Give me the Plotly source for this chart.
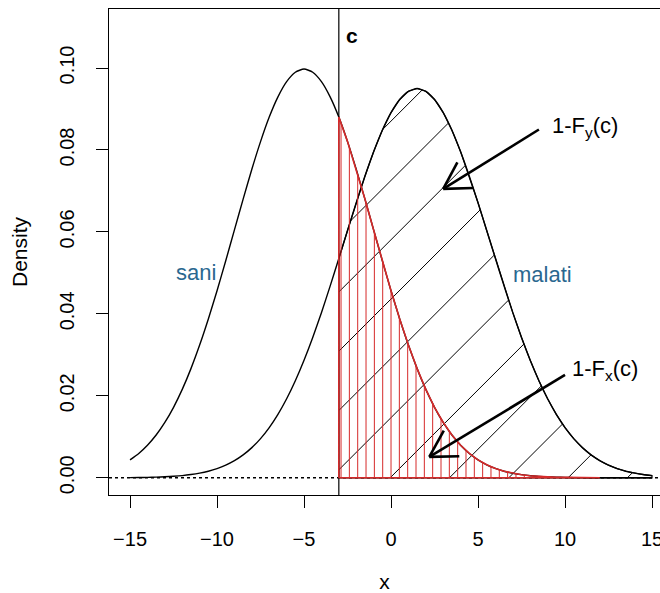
import numpy as np
import plotly.graph_objects as go

# ---- data -------------------------------------------------------------
x_grid = np.arange(-15, 15.001, 0.5)

sani_density = [
    0.00438, 0.00594, 0.00794, 0.01043, 0.01350, 0.01720, 0.02157, 0.02664,
    0.03238, 0.03875, 0.04566, 0.05297, 0.06049, 0.06801, 0.07529, 0.08204,
    0.08802, 0.09296, 0.09667, 0.09896, 0.09974, 0.09896, 0.09667, 0.09296,
    0.08802, 0.08204, 0.07529, 0.06801, 0.06049, 0.05297, 0.04566, 0.03875,
    0.03238, 0.02664, 0.02157, 0.01720, 0.01350, 0.01043, 0.00794, 0.00594,
    0.00438, 0.00318, 0.00228, 0.00160, 0.00111, 0.00076, 0.00051, 0.00034,
    0.00022, 0.00014, 0.00009, 0.00005, 0.00003, 0.00002, 0.00001, 0.00001,
    0.0, 0.0, 0.0, 0.0, 0.0,
]

malati_density = [
    0.00004, 0.00007, 0.00010, 0.00016, 0.00025, 0.00037, 0.00054, 0.00079,
    0.00113, 0.00160, 0.00224, 0.00308, 0.00417, 0.00558, 0.00736, 0.00956,
    0.01225, 0.01548, 0.01929, 0.02369, 0.02868, 0.03424, 0.04030, 0.04677,
    0.05351, 0.06036, 0.06713, 0.07360, 0.07957, 0.08481, 0.08912, 0.09233,
    0.09432, 0.09499, 0.09432, 0.09233, 0.08912, 0.08481, 0.07957, 0.07360,
    0.06713, 0.06036, 0.05351, 0.04677, 0.04030, 0.03424, 0.02868, 0.02369,
    0.01929, 0.01548, 0.01225, 0.00956, 0.00736, 0.00558, 0.00417, 0.00308,
    0.00224, 0.00160, 0.00113, 0.00079, 0.00054,
]

cutoff = -3.0          # threshold c
sani_tail_end = 12.0   # right end of the shaded sani tail
malati_end = 15.0

x_ticks = [-15, -10, -5, 0, 5, 10, 15]
x_tick_labels = ["\u221215", "\u221210", "\u22125", "0", "5", "10", "15"]
y_ticks = [0.00, 0.02, 0.04, 0.06, 0.08, 0.10]
y_tick_labels = ["0.00", "0.02", "0.04", "0.06", "0.08", "0.10"]

arrow_tails = [(8.5, 0.0850), (10.0, 0.0251)]
arrow_tips = [(3.0, 0.0705), (2.2, 0.0051)]

# ---- layout geometry --------------------------------------------------
W, H = 660, 593
M_L, M_R, M_T, M_B = 109, 0, 9, 98
x_range = [-16.21, 15.46]
y_range = [-0.0042, 0.1144]
plot_w = W - M_L - M_R
plot_h = H - M_T - M_B
sx = plot_w / (x_range[1] - x_range[0])   # px per x unit
sy = plot_h / (y_range[1] - y_range[0])   # px per y unit

FONT = "Liberation Sans, Arial, Helvetica, sans-serif"
RED = "#d62a2a"
BLUE = "#2a6890"

fig = go.Figure()

# density curves
for dens in (sani_density, malati_density):
    fig.add_trace(go.Scatter(x=x_grid, y=dens, mode="lines",
                             line=dict(color="black", width=1.4, shape="spline", smoothing=0.6),
                             hoverinfo="skip", showlegend=False))

# 45-degree hatching under the malati curve, right of c
xf = np.linspace(cutoff, malati_end, 6001)
fm = np.interp(xf, x_grid, malati_density)
slope = sx / sy
hatch_step = 59.3 / sx
hx, hy = [], []
for k in range(-9, 7):
    x0 = -0.05 + k * hatch_step
    yl = (xf - x0) * slope
    idx = np.flatnonzero((yl >= 0) & (yl <= fm))
    if idx.size == 0:
        continue
    for run in np.split(idx, np.where(np.diff(idx) > 1)[0] + 1):
        a, b = run[0], run[-1]
        if b - a < 2:
            continue
        hx += [xf[a], xf[b], None]
        hy += [yl[a], yl[b], None]
fig.add_trace(go.Scatter(x=hx, y=hy, mode="lines",
                         line=dict(color="black", width=1),
                         hoverinfo="skip", showlegend=False))

# outline of the malati region
mask_m = (x_grid >= cutoff) & (x_grid <= malati_end)
mx = [cutoff] + list(x_grid[mask_m]) + [malati_end, cutoff]
my = [0] + list(np.array(malati_density)[mask_m]) + [0, 0]
fig.add_trace(go.Scatter(x=mx, y=my, mode="lines",
                         line=dict(color="black", width=1.2),
                         hoverinfo="skip", showlegend=False))

# vertical red hatching under the sani tail
red_step = 8.33 / sx
fs = np.array(sani_density)
rx, ry = [], []
k0 = int(np.ceil(cutoff / red_step))
k1 = int(np.floor(sani_tail_end / red_step))
for k in range(k0, k1 + 1):
    xv = k * red_step
    if xv <= cutoff + 1e-9:
        continue
    top = float(np.interp(xv, x_grid, fs))
    rx += [xv, xv, None]
    ry += [0, top, None]
fig.add_trace(go.Scatter(x=rx, y=ry, mode="lines",
                         line=dict(color=RED, width=1),
                         hoverinfo="skip", showlegend=False))

# outline of the sani tail
mask_s = (x_grid >= cutoff) & (x_grid <= sani_tail_end)
sxs = [cutoff] + list(x_grid[mask_s]) + [sani_tail_end, cutoff]
sys_ = [0] + list(fs[mask_s]) + [0, 0]
fig.add_trace(go.Scatter(x=sxs, y=sys_, mode="lines",
                         line=dict(color=RED, width=1.6),
                         hoverinfo="skip", showlegend=False))

# reference lines: y = 0 (dotted) and x = c
shapes = [
    dict(type="line", xref="paper", yref="y", x0=0, x1=1, y0=0, y1=0,
         line=dict(color="black", width=1.4, dash="dot"), layer="below"),
    dict(type="line", xref="x", yref="paper", x0=cutoff, x1=cutoff, y0=0, y1=1,
         line=dict(color="black", width=1.2), layer="below"),
]

# arrows with open heads
head_len = 30
for (xt, yt), (xh, yh) in zip(arrow_tails, arrow_tips):
    shapes.append(dict(type="line", x0=xt, y0=yt, x1=xh, y1=yh,
                       line=dict(color="black", width=2.6)))
    ang = np.arctan2((yt - yh) * sy, (xt - xh) * sx)
    for d in (np.pi / 6, -np.pi / 6):
        bx = xh + head_len * np.cos(ang + d) / sx
        by = yh + head_len * np.sin(ang + d) / sy
        shapes.append(dict(type="line", x0=xh, y0=yh, x1=bx, y1=by,
                           line=dict(color="black", width=2.6)))

annotations = [
    dict(x=-11.2, y=0.0502, text="sani", font=dict(size=22, color=BLUE, family=FONT)),
    dict(x=8.7, y=0.0497, text="malati", font=dict(size=22, color=BLUE, family=FONT)),
    dict(x=-2.25, y=0.1080, text="<b>c</b>", font=dict(size=21, color="black", family=FONT)),
    dict(x=11.15, y=0.0856, text="1-F<sub>y</sub>(c)", font=dict(size=22, color="black", family=FONT)),
    dict(x=12.3, y=0.0263, text="1-F<sub>x</sub>(c)", font=dict(size=22, color="black", family=FONT)),
]
for a in annotations:
    a.update(xref="x", yref="y", showarrow=False, xanchor="center", yanchor="middle")

fig.update_layout(
    width=W, height=H,
    margin=dict(l=M_L, r=M_R, t=M_T, b=M_B, pad=0),
    paper_bgcolor="white", plot_bgcolor="white",
    font=dict(family=FONT, size=20, color="black"),
    shapes=shapes, annotations=annotations,
    showlegend=False,
)
fig.update_xaxes(
    range=x_range, tickvals=x_ticks, ticktext=x_tick_labels,
    ticks="outside", ticklen=12, tickwidth=1.2, tickcolor="black",
    showline=True, linecolor="black", linewidth=1.4, mirror=True,
    showgrid=False, zeroline=False, automargin=False,
    tickfont=dict(size=20, family=FONT), ticklabelstandoff=14,
    ticklabeloverflow="allow",
    title=dict(text="x", font=dict(size=21, family=FONT), standoff=32),
)
fig.update_yaxes(
    range=y_range, tickvals=y_ticks, ticktext=y_tick_labels,
    ticks="outside", ticklen=12, tickwidth=1.2, tickcolor="black",
    showline=True, linecolor="black", linewidth=1.4, mirror=False,
    showgrid=False, zeroline=False, automargin=False, tickangle=-90,
    tickfont=dict(size=20, family=FONT), ticklabelstandoff=14,
    title=dict(text="Density", font=dict(size=21, family=FONT), standoff=22),
)

fig.write_html("out.html")
